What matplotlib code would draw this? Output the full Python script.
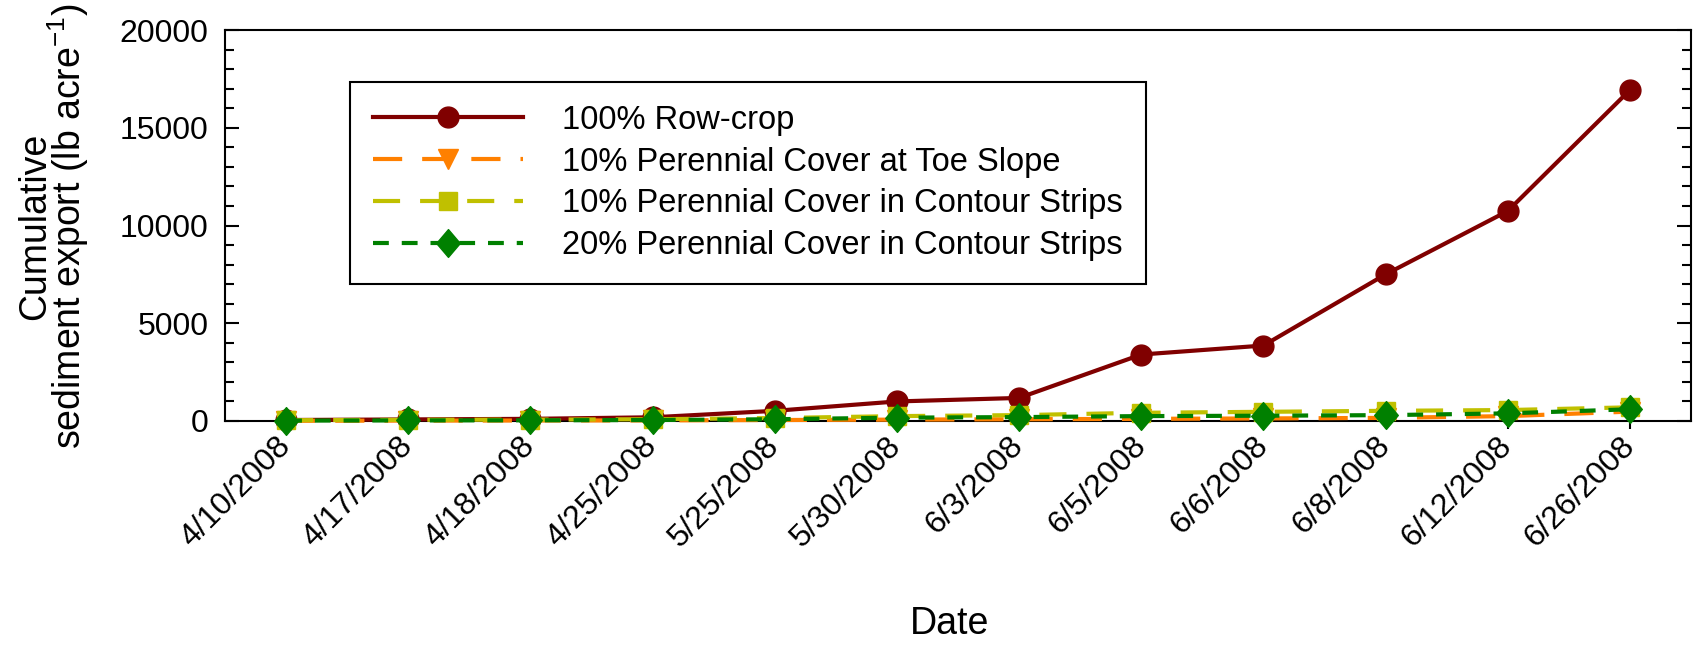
import matplotlib
matplotlib.use("Agg")
import matplotlib.pyplot as plt
from matplotlib.ticker import MultipleLocator
from matplotlib.path import Path

plt.rcParams['font.family'] = ['Liberation Sans', 'DejaVu Sans']
plt.rcParams['mathtext.fontset'] = 'custom'
plt.rcParams['mathtext.rm'] = 'Liberation Sans'
plt.rcParams['mathtext.default'] = 'regular'

# Sampling dates and cumulative sediment export (lb/acre) per treatment
dates = ["4/10/2008", "4/17/2008", "4/18/2008", "4/25/2008", "5/25/2008", "5/30/2008",
         "6/3/2008", "6/5/2008", "6/6/2008", "6/8/2008", "6/12/2008", "6/26/2008"]
row_crop = [50, 80, 110, 190, 520, 1000, 1180, 3400, 3860, 7500, 10740, 16930]
toe_slope = [10, 20, 25, 30, 50, 70, 90, 110, 130, 160, 250, 480]
contour_10 = [40, 60, 70, 90, 150, 250, 300, 420, 470, 520, 560, 700]
contour_20 = [20, 30, 35, 50, 90, 170, 200, 250, 270, 300, 390, 600]

series_labels = ["100% Row-crop",
                 "10% Perennial Cover at Toe Slope",
                 "10% Perennial Cover in Contour Strips",
                 "20% Perennial Cover in Contour Strips"]

W, H = 1694, 648
fig = plt.figure(figsize=(W / 100, H / 100), dpi=100)
ax = fig.add_axes([225 / W, 1 - 421 / H, (1691 - 225) / W, (421 - 30) / H])

x = list(range(len(dates)))
lw = 3.0

# slightly tall diamond
diamond = Path([(0, 1), (0.85, 0), (0, -1), (-0.85, 0), (0, 1)],
               [Path.MOVETO, Path.LINETO, Path.LINETO, Path.LINETO, Path.CLOSEPOLY])

ax.plot(x, row_crop, color="#800000", lw=lw, marker="o", ms=15,
        mec="#800000", mfc="#800000", label=series_labels[0], zorder=3, clip_on=False)
ax.plot(x, toe_slope, color="#FF8000", lw=lw, dashes=(7, 4.8), marker="v", ms=14,
        mec="#FF8000", mfc="#FF8000", label=series_labels[1], zorder=4, clip_on=False)
ax.plot(x, contour_10, color="#C0C000", lw=lw, dashes=(6.5, 4.8), marker="s", ms=13,
        mec="#C0C000", mfc="#C0C000", label=series_labels[2], zorder=5, clip_on=False)
ax.plot(x, contour_20, color="#008000", lw=lw, dashes=(3.8, 3.1), marker=diamond, ms=20,
        mec="#008000", mfc="#008000", label=series_labels[3], zorder=6, clip_on=False)

ax.set_xlim(-0.5, len(dates) - 0.5)
ax.set_ylim(0, 20000)
ax.set_xticks(x)
ax.set_xticklabels(dates, rotation=45, ha="right", va="center", rotation_mode="anchor")
ax.yaxis.set_major_locator(MultipleLocator(5000))
ax.yaxis.set_minor_locator(MultipleLocator(1000))

ax.tick_params(axis="y", which="both", direction="in", right=True, left=True,
               labelsize=23, width=1.5, pad=12)
ax.tick_params(axis="y", which="major", length=10)
ax.tick_params(axis="y", which="minor", length=6.5)
ax.tick_params(axis="x", which="major", direction="out", length=6, width=1.5,
               labelsize=23, pad=9)
ax.tick_params(axis="x", which="minor", bottom=False, top=False)
for s in ax.spines.values():
    s.set_linewidth(1.5)

fig.text(950 / W, 1 - 624 / H, "Date", fontsize=27, ha="center", va="center")
fig.text(54 / W, 1 - 226 / H, "Cumulative\nsediment export (lb acre$^{-1}$)",
         fontsize=27, rotation=90, ha="center", va="center",
         multialignment="center", linespacing=0.78)

leg = ax.legend(loc="upper left", bbox_to_anchor=(350 / W, 1 - 82 / H),
                bbox_transform=fig.transFigure, borderaxespad=0, fontsize=23.5,
                handlelength=4.6, handletextpad=1.2, borderpad=0.7,
                labelspacing=0.33, fancybox=False, framealpha=1, edgecolor="black")
leg.get_frame().set_linewidth(1.5)

fig.savefig("out.png", dpi=100)
